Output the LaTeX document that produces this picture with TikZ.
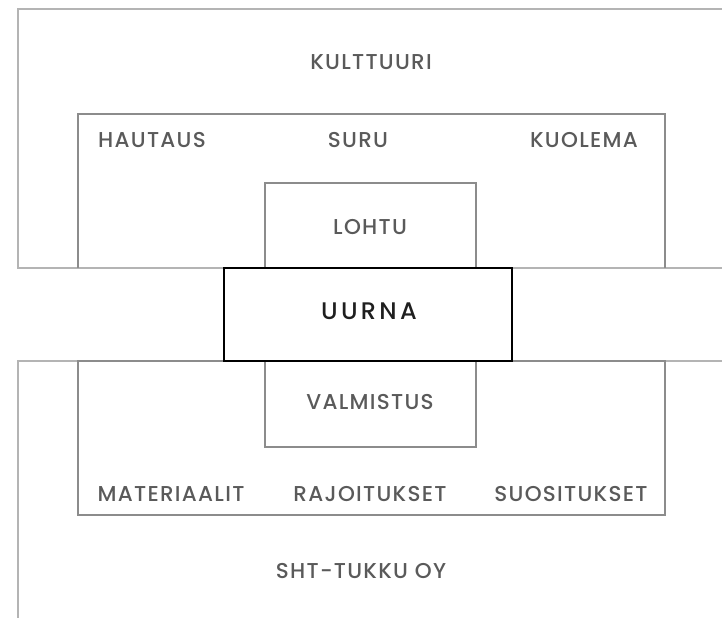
\documentclass[tikz,border=0pt]{standalone}
\usepackage{fontspec}
\setmainfont{Poppins Medium}[LetterSpace=6]
\definecolor{lightframe}{HTML}{B4B4B4}
\definecolor{midframe}{HTML}{8C8C8C}
\definecolor{labelgray}{HTML}{5A5A5A}

\begin{document}
\begin{tikzpicture}[x=1pt,y=-1pt,
  label/.style={text=labelgray,font=\fontsize{21.5}{25}\selectfont,inner sep=0pt,anchor=center},
  outerframe/.style={draw=lightframe,line width=1.6pt},
  innerframe/.style={draw=midframe,line width=1.6pt},
  coreframe/.style={draw=black,line width=2.8pt}]
\useasboundingbox (0,0) rectangle (722,618);
% kulttuuri
\draw[outerframe] (722,9) -- (18,9) -- (18,268) -- (722,268);
\draw[innerframe] (78,268) -- (78,114) -- (665,114) -- (665,268);
\draw[innerframe] (265,268) -- (265,183) -- (476,183) -- (476,268);
% tukku
\draw[outerframe] (722,361) -- (18,361) -- (18,618);
\draw[innerframe] (78,361) rectangle (665,515);
\draw[innerframe] (265,361) -- (265,447) -- (476,447) -- (476,361);
% uurna
\draw[coreframe,fill=white] (224,268) rectangle (512,361);
\node[label] (kulttuuri) at (371,62) {KULTTUURI};
\node[label] (hautaus) at (152,140) {HAUTAUS};
\node[label] (suru) at (358,140) {SURU};
\node[label] (kuolema) at (584,140) {KUOLEMA};
\node[label] (lohtu) at (370,227) {LOHTU};
\node[label,text=black!88,font=\fontsize{24}{28}\selectfont\addfontfeature{LetterSpace=14}] (uurna) at (369,311) {UURNA};
\node[label] (valmistus) at (370,402) {VALMISTUS};
\node[label] (materiaalit) at (171,494) {MATERIAALIT};
\node[label] (rajoitukset) at (370,494) {RAJOITUKSET};
\node[label] (suositukset) at (571,494) {SUOSITUKSET};
\node[label] (tukku) at (361,571) {SHT-TUKKU OY};
\end{tikzpicture}
\end{document}
